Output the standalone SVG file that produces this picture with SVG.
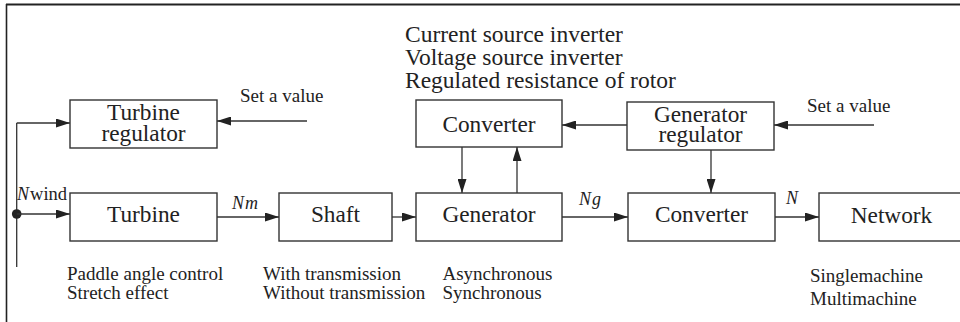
<svg xmlns="http://www.w3.org/2000/svg" width="960" height="322" viewBox="0 0 960 322">
<defs>
<style>
.box{fill:#fff;stroke:#333;stroke-width:1.4}
.ln{fill:none;stroke:#333;stroke-width:1.3}
.arr{marker-end:url(#ah)}
.lbl{font-family:"Liberation Serif","Times New Roman",serif;font-size:23.3px;fill:#222;text-anchor:middle}
.sm{font-family:"Liberation Serif","Times New Roman",serif;font-size:19px;fill:#222}
.big{font-family:"Liberation Serif","Times New Roman",serif;font-size:23.5px;fill:#222}
.it{font-family:"Liberation Serif","Times New Roman",serif;font-size:18px;font-style:italic;fill:#222}
</style>
<marker id="ah" markerUnits="userSpaceOnUse" markerWidth="15" markerHeight="9" refX="14" refY="4.5" orient="auto">
<path d="M0,0 L14,4.5 L0,9 z" fill="#222"/>
</marker>
</defs>
<rect width="960" height="322" fill="#fff"/>
<g id="frame">
<line x1="6.5" y1="4" x2="6.5" y2="322" stroke="#222" stroke-width="1.6"/>
<line x1="6" y1="4.5" x2="960" y2="4.5" stroke="#222" stroke-width="2"/>
</g>
<g id="connectors">
<path class="ln arr" d="M307,121 L217,121"/>
<path class="ln" d="M16.7,267 L16.7,123"/>
<path class="ln arr" d="M16.7,123 L70,123"/>
<circle cx="16.7" cy="214" r="4.8" fill="#222"/>
<path class="ln arr" d="M16.7,214 L70,214"/>
<path class="ln arr" d="M217,217 L279,217"/>
<path class="ln arr" d="M392,217 L416,217"/>
<path class="ln arr" d="M462,147 L462,193"/>
<path class="ln arr" d="M517,193 L517,147"/>
<path class="ln arr" d="M627,125 L562,125"/>
<path class="ln arr" d="M562,217 L628,217"/>
<path class="ln arr" d="M711,150 L711,193"/>
<path class="ln arr" d="M874,125 L774,125"/>
<path class="ln arr" d="M775,217 L819,217"/>
<text class="it" x="17" y="200">N<tspan font-style="normal" font-size="18.5" dx="1">wind</tspan></text>
<text class="it" x="232" y="209">N<tspan dx="1">m</tspan></text>
<text class="it" x="579" y="205">N<tspan dx="1">g</tspan></text>
<text class="it" x="786" y="204">N</text>
</g>
<g id="turbine-regulator">
<rect class="box" x="70" y="100" width="147" height="48"/>
<text class="lbl" x="143.5" y="120">Turbine</text>
<text class="lbl" x="143.5" y="140.5">regulator</text>
</g>
<g id="turbine">
<rect class="box" x="70" y="193" width="147" height="48"/>
<text class="lbl" x="143.5" y="222">Turbine</text>
</g>
<g id="shaft">
<rect class="box" x="279" y="193" width="113" height="48"/>
<text class="lbl" x="335.5" y="222">Shaft</text>
</g>
<g id="generator">
<rect class="box" x="416" y="193" width="146" height="48"/>
<text class="lbl" x="489" y="222">Generator</text>
</g>
<g id="converter-rotor">
<rect class="box" x="416" y="100" width="146" height="47"/>
<text class="lbl" x="489" y="131.5">Converter</text>
</g>
<g id="generator-regulator">
<rect class="box" x="627" y="102" width="147" height="48"/>
<text class="lbl" x="700.5" y="122">Generator</text>
<text class="lbl" x="700.5" y="142">regulator</text>
</g>
<g id="converter-grid">
<rect class="box" x="628" y="193" width="147" height="48"/>
<text class="lbl" x="701.5" y="222">Converter</text>
</g>
<g id="network">
<rect class="box" x="819" y="193" width="150" height="48"/>
<text class="lbl" x="891.5" y="222.5">Network</text>
</g>
<g id="annotations">
<text class="sm" x="240" y="102">Set a value</text>
<text class="sm" x="807" y="111.5">Set a value</text>
<text class="big" x="405" y="41.5">Current source inverter</text>
<text class="big" x="405" y="64.5">Voltage source inverter</text>
<text class="big" x="405" y="87.5">Regulated resistance of rotor</text>
<text class="sm" x="67" y="280">Paddle angle control</text>
<text class="sm" x="67" y="298.5">Stretch effect</text>
<text class="sm" x="263" y="280">With transmission</text>
<text class="sm" x="263" y="298.5">Without transmission</text>
<text class="sm" x="442.5" y="280">Asynchronous</text>
<text class="sm" x="442.5" y="298.5">Synchronous</text>
<text class="sm" x="810" y="282">Singlemachine</text>
<text class="sm" x="810" y="305">Multimachine</text>
</g>
</svg>
